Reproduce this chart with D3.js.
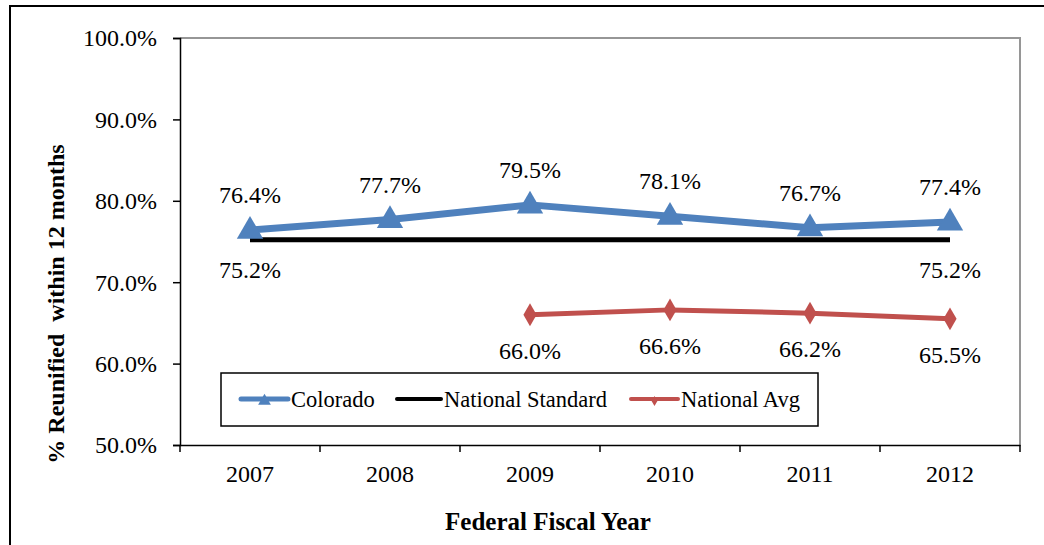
<!DOCTYPE html>
<html>
<head>
<meta charset="utf-8">
<script src="https://cdnjs.cloudflare.com/ajax/libs/d3/7.8.5/d3.min.js"></script>
<style>
  body { margin: 0; background: #fff; }
  text { font-family: "Liberation Serif", "Times New Roman", serif; fill: #000; }
</style>
</head>
<body>
<script>
var years = ["2007", "2008", "2009", "2010", "2011", "2012"];
var colorado = [76.4, 77.7, 79.5, 78.1, 76.7, 77.4];
var nationalStandard = [75.2, 75.2, 75.2, 75.2, 75.2, 75.2];
var nationalAvg = [null, null, 66.0, 66.6, 66.2, 65.5];
var yTicks = [50, 60, 70, 80, 90, 100];

var width = 1044, height = 545;
var plotLeft = 180, plotRight = 1020, plotTop = 38, plotBottom = 445;

var svg = d3.select("body").append("svg")
    .attr("width", width)
    .attr("height", height);

// outer frame
svg.append("path")
    .attr("d", "M10," + height + "V6H" + width)
    .attr("fill", "none").attr("stroke", "#000").attr("stroke-width", 2);

var x = d3.scaleBand().domain(years).range([plotLeft, plotRight]);
var y = d3.scaleLinear().domain([50, 100]).range([plotBottom, plotTop]);
var cx = function(i){ return x(years[i]) + x.bandwidth() / 2; };

// plot border (top and right, gray)
svg.append("path")
    .attr("d", "M" + plotLeft + "," + plotTop + "H" + plotRight + "V" + plotBottom)
    .attr("fill", "none").attr("stroke", "#969696").attr("stroke-width", 2);

var yAxis = d3.axisLeft(y).tickValues(yTicks).tickSize(7).tickPadding(16)
    .tickFormat(function(d){ return d.toFixed(1) + "%"; });
var gy = svg.append("g").attr("transform", "translate(" + plotLeft + ",0)").call(yAxis);
gy.select(".domain").attr("stroke", "#000").attr("stroke-width", 1.5);
gy.selectAll(".tick line").attr("stroke", "#000").attr("stroke-width", 1.5);
gy.selectAll(".tick text").style("font-size", "24px").attr("dy", "0.33em")
    .attr("font-family", "Liberation Serif");

var xAxis = d3.axisBottom(x).tickSize(0).tickPadding(20);
var gx = svg.append("g").attr("transform", "translate(0," + plotBottom + ")").call(xAxis);
gx.select(".domain").attr("stroke", "#000").attr("stroke-width", 1.5);
gx.selectAll(".tick text").style("font-size", "24px").attr("font-family", "Liberation Serif");
// category boundary ticks
gx.selectAll(".bound").data(d3.range(years.length + 1)).enter().append("line")
    .attr("x1", function(i){ return plotLeft + i * x.bandwidth(); })
    .attr("x2", function(i){ return plotLeft + i * x.bandwidth(); })
    .attr("y1", 0).attr("y2", 7)
    .attr("stroke", "#000").attr("stroke-width", 1.5);

// lines
var line = d3.line()
    .defined(function(d){ return d != null; })
    .x(function(d, i){ return cx(i); })
    .y(function(d){ return y(d); });

svg.append("path").attr("d", line(nationalStandard))
    .attr("fill", "none").attr("stroke", "#000").attr("stroke-width", 5);

svg.append("path").attr("d", line(colorado))
    .attr("fill", "none").attr("stroke", "#4F81BD").attr("stroke-width", 7)
    .attr("stroke-linejoin", "round");

svg.append("path").attr("d", line(nationalAvg))
    .attr("fill", "none").attr("stroke", "#C0504D").attr("stroke-width", 5);

var tri = d3.symbol().type(d3.symbolTriangle).size(300);
var dia = d3.symbol().type(d3.symbolDiamond).size(150);

svg.selectAll(".co").data(colorado).enter().append("path")
    .attr("d", tri)
    .attr("transform", function(d, i){ return "translate(" + cx(i) + "," + (y(d) + 1) + ")"; })
    .attr("fill", "#4F81BD");

nationalAvg.forEach(function(d, i){
    if (d == null) return;
    svg.append("path")
        .attr("d", dia)
        .attr("transform", "translate(" + cx(i) + "," + y(d) + ")")
        .attr("fill", "#C0504D");
});

// data labels
var fmt = function(d){ return d.toFixed(1) + "%"; };
svg.selectAll(".lco").data(colorado).enter().append("text")
    .attr("x", function(d, i){ return cx(i); })
    .attr("y", function(d){ return y(d) - 27; })
    .attr("text-anchor", "middle").style("font-size", "24px")
    .text(fmt);

[0, years.length - 1].forEach(function(i){
    svg.append("text")
        .attr("x", cx(i)).attr("y", y(nationalStandard[i]) + 38)
        .attr("text-anchor", "middle").style("font-size", "24px")
        .text(fmt(nationalStandard[i]));
});

nationalAvg.forEach(function(d, i){
    if (d == null) return;
    svg.append("text")
        .attr("x", cx(i)).attr("y", y(d) + 44)
        .attr("text-anchor", "middle").style("font-size", "24px")
        .text(fmt(d));
});

// axis titles
svg.append("text")
    .attr("x", 548).attr("y", 530)
    .attr("text-anchor", "middle").style("font-size", "25px").style("font-weight", "bold")
    .text("Federal Fiscal Year");

svg.append("text")
    .attr("transform", "translate(64,304) rotate(-90)")
    .attr("text-anchor", "middle").style("font-size", "24px").style("font-weight", "bold")
    .style("white-space", "pre")
    .text("% Reunified  within 12 months");

// legend
var lg = svg.append("g");
lg.append("rect").attr("x", 221).attr("y", 373).attr("width", 597).attr("height", 53)
    .attr("fill", "#fff").attr("stroke", "#000").attr("stroke-width", 1.5);

var items = [
    {name: "Colorado", color: "#4F81BD", w: 5, sym: d3.symbol().type(d3.symbolTriangle).size(70), sx: 241, len: 47},
    {name: "National Standard", color: "#000", w: 4, sym: null, sx: 397, len: 44},
    {name: "National Avg", color: "#C0504D", w: 4, sym: d3.symbol().type(d3.symbolDiamond).size(30), sx: 631, len: 47}
];
items.forEach(function(it){
    lg.append("line").attr("x1", it.sx).attr("x2", it.sx + it.len).attr("y1", 399).attr("y2", 399)
        .attr("stroke", it.color).attr("stroke-width", it.w).attr("stroke-linecap", "round");
    if (it.sym) {
        lg.append("path").attr("d", it.sym)
            .attr("transform", "translate(" + (it.sx + it.len / 2) + ",401)")
            .attr("fill", it.color);
    }
    lg.append("text").attr("x", it.sx + it.len + 3).attr("y", 407).style("font-size", "22.5px").text(it.name);
});
</script>
</body>
</html>
